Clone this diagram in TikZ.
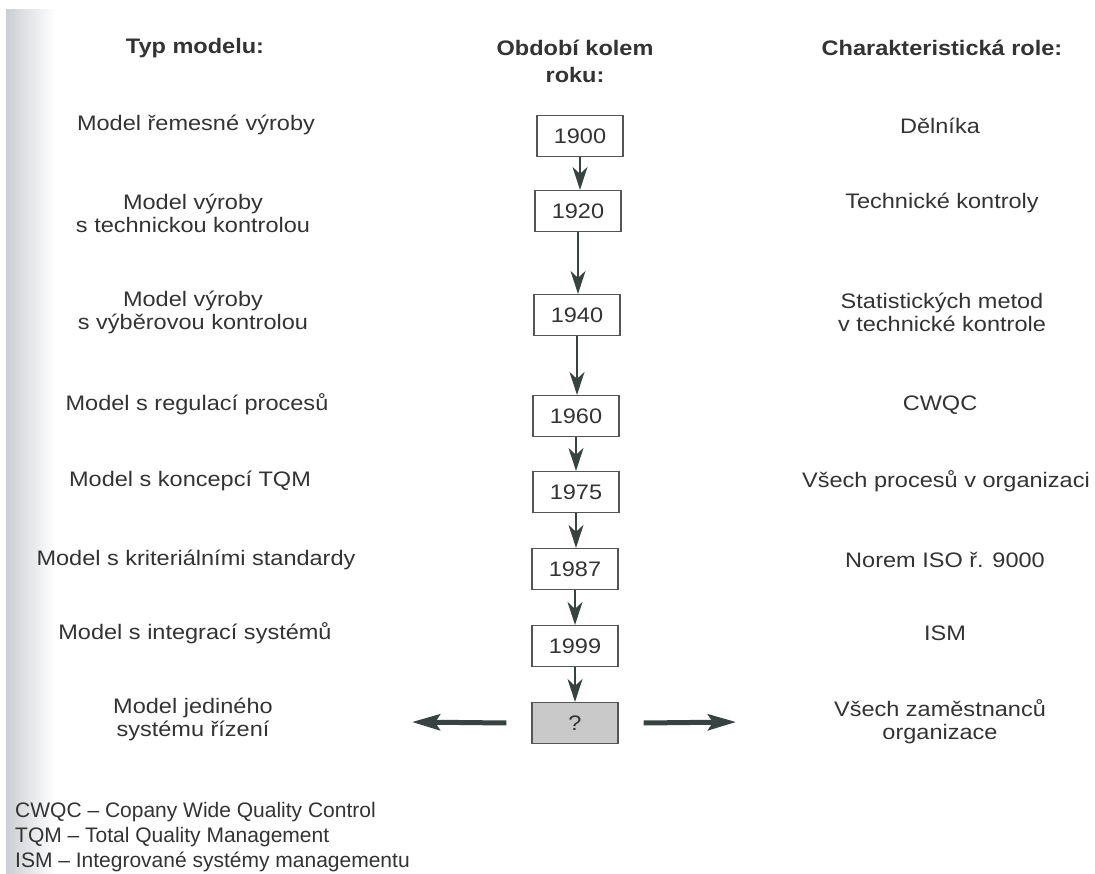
\documentclass[tikz,border=0pt]{standalone}
\usepackage{fontspec}
\setmainfont{Liberation Sans}
\newfontfamily\dfont{Liberation Sans}[FakeStretch=1.12]
\usetikzlibrary{arrows.meta}
\definecolor{ink}{HTML}{333333}
\definecolor{boxline}{HTML}{555555}
\definecolor{arr}{HTML}{364340}
\definecolor{qfill}{HTML}{C9C9C9}
\definecolor{edge}{HTML}{CBCED2}
\tikzset{
  lbl/.style={text=ink, align=center, font=\dfont\fontsize{21}{23}\selectfont},
  hdr/.style={text=ink, align=center, font=\dfont\bfseries\fontsize{21}{27}\selectfont},
  yearbox/.style={draw=boxline, line width=1.2pt, minimum width=86pt, minimum height=41pt,
    inner sep=0pt, text=ink, font=\dfont\fontsize{21}{23}\selectfont},
  down/.style={draw=arr, line width=1.5pt, -{Stealth[length=23pt,width=15pt,inset=7pt]}},
  side/.style={draw=arr, line width=5pt, -{Stealth[length=28pt,width=16pt,inset=5pt]}},
  note/.style={text=ink, anchor=base west, inner sep=0pt, font=\fontsize{21}{24}\selectfont}
}
\begin{document}
\begin{tikzpicture}[x=1pt,y=-1pt]
\useasboundingbox (0,0) rectangle (1095,874);
\fill[white] (0,0) rectangle (1095,874);
% shadow along the bound edge of the page
\shade[left color=edge, right color=white] (6,10) rectangle (55,874);

% column headings
\node[hdr] (h1) at (195,48) {Typ modelu:};
\node[hdr] (h2) at (575,61) {Období kolem\\roku:};
\node[hdr] (h3) at (942,48) {Charakteristická role:};

% timeline of years
\node[yearbox] (y1) at (580,136) {1900};
\node[yearbox] (y2) at (578,211) {1920};
\node[yearbox] (y3) at (577,315) {1940};
\node[yearbox] (y4) at (576,416) {1960};
\node[yearbox] (y5) at (576,492) {1975};
\node[yearbox] (y6) at (575,569) {1987};
\node[yearbox] (y7) at (575,646) {1999};
\node[yearbox, fill=qfill] (y8) at (575,723) {?};

\draw[down] (y1.south) -- (y1.south |- y2.north);
\draw[down] (y2.south) -- (y2.south |- y3.north);
\draw[down] (y3.south) -- (y3.south |- y4.north);
\draw[down] (y4.south) -- (y4.south |- y5.north);
\draw[down] (y5.south) -- (y5.south |- y6.north);
\draw[down] (y6.south) -- (y6.south |- y7.north);
\draw[down] (y7.south) -- (y7.south |- y8.north);

% model types
\node[lbl] (m1) at (196,125) {Model řemesné výroby};
\node[lbl] (m2) at (193,213) {Model výroby\\s technickou kontrolou};
\node[lbl] (m3) at (193,312) {Model výroby\\s výběrovou kontrolou};
\node[lbl] (m4) at (197,404) {Model s regulací procesů};
\node[lbl] (m5) at (190,481) {Model s koncepcí TQM};
\node[lbl] (m6) at (196,560) {Model s kriteriálními standardy};
\node[lbl] (m7) at (195,633) {Model s integrací systémů};
\node[lbl] (m8) at (193,719) {Model jediného\\systému řízení};

% characteristic roles
\node[lbl] (r1) at (940,126) {Dělníka};
\node[lbl] (r2) at (942,203) {Technické kontroly};
\node[lbl] (r3) at (942,312) {Statistických metod\\v technické kontrole};
\node[lbl] (r4) at (940,405) {CWQC};
\node[lbl] (r5) at (946,481) {Všech procesů v organizaci};
\node[lbl] (r6) at (945,560) {Norem ISO ř. 9000};
\node[lbl] (r7) at (945,633) {ISM};
\node[lbl] (r8) at (940,722) {Všech zaměstnanců\\organizace};

% outlook arrows from the open question
\coordinate (la) at (412,722);
\coordinate (ra) at (736,722);
\draw[side] ([xshift=-25pt]y8.west) -- (la);
\draw[side] ([xshift=25pt]y8.east) -- (ra);

% abbreviations
\node[note] (n1) at (15,817) {CWQC – Copany Wide Quality Control};
\node[note] (n2) at (15,842) {TQM – Total Quality Management};
\node[note] (n3) at (15,867) {ISM – Integrované systémy managementu};
\end{tikzpicture}
\end{document}
